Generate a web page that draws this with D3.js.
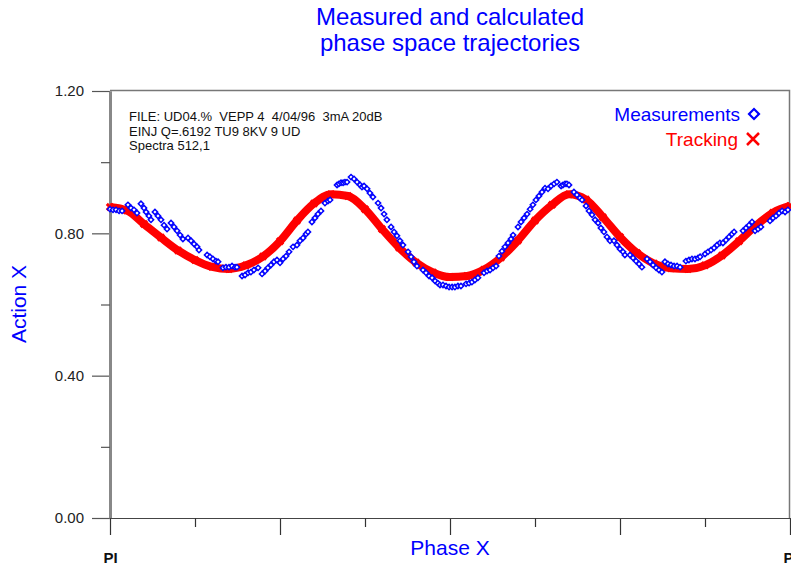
<!DOCTYPE html>
<html>
<head>
<meta charset="utf-8">
<script src="https://cdn.jsdelivr.net/npm/d3@7"></script>
<style>
  body { margin: 0; background: #fff; }
  text { font-family: "Liberation Sans", Arial, sans-serif; }
</style>
</head>
<body>
<svg id="chart" width="791" height="569"></svg>
<script>
// ----------------------------
// Data (phase in degrees, -180..180 = -PI..PI)
// ----------------------------
const titleLines = ["Measured and calculated", "phase space trajectories"];
const infoLines = [
  "FILE: UD04.%  VEPP 4  4/04/96  3mA 20dB",
  "EINJ Q=.6192 TU9 8KV 9 UD",
  "Spectra 512,1"
];
const yMajorTicks = [0, 0.4, 0.8, 1.2];
const yMinorTicks = [0.2, 0.6, 1.0];
const xMajorTicks = [-180, -90, 0, 90, 180];
const xMinorTicks = [-135, -45, 45, 135];
const xEndLabel = "PI";

// tracking curve, every 9 degrees
const trackPhase = d3.range(-180, 181, 9);
const trackAction = [
  0.874, 0.864, 0.826, 0.788, 0.752, 0.725, 0.706, 0.700, 0.710, 0.735,
  0.778, 0.836, 0.884, 0.910, 0.905, 0.868, 0.812, 0.760, 0.718, 0.690,
  0.677, 0.680, 0.698, 0.732, 0.780, 0.836, 0.880, 0.910, 0.895, 0.845,
  0.790, 0.745, 0.715, 0.702, 0.700, 0.710, 0.738, 0.778, 0.822, 0.858,
  0.877
];

// measured points [phase, action]
const measurements = [
  [-180.0,0.868],[-178.4,0.866],[-176.8,0.866],[-175.2,0.863],[-173.6,0.863],
  [-170.5,0.880],[-168.9,0.871],[-167.3,0.866],[-165.7,0.857],
  [-163.6,0.883],[-162.0,0.871],[-160.9,0.860],[-159.4,0.849],[-158.3,0.838],
  [-156.2,0.860],[-154.6,0.849],[-153.0,0.838],[-151.4,0.823],[-149.8,0.812],
  [-147.7,0.829],[-146.1,0.818],[-144.5,0.807],[-142.9,0.795],[-141.4,0.784],
  [-138.7,0.787],[-137.1,0.779],[-135.5,0.770],[-133.9,0.762],[-132.9,0.753],
  [-128.6,0.739],[-127.1,0.734],[-125.5,0.728],[-123.9,0.722],[-122.8,0.720],
  [-120.2,0.703],[-118.6,0.705],[-117.0,0.705],[-115.4,0.708],[-113.8,0.705],[-112.8,0.705],
  [-110.1,0.680],[-108.5,0.683],[-106.9,0.689],[-105.4,0.691],[-103.8,0.697],[-101.6,0.703],
  [-99.5,0.686],[-97.9,0.694],[-96.4,0.703],[-94.8,0.711],[-93.2,0.720],[-91.6,0.725],
  [-90.0,0.717],[-88.4,0.728],[-86.8,0.736],[-85.2,0.748],[-83.1,0.762],
  [-81.0,0.767],[-79.4,0.779],[-77.8,0.787],[-76.2,0.798],[-75.2,0.804],
  [-73.1,0.832],[-71.5,0.843],[-69.9,0.854],[-68.3,0.863],
  [-66.2,0.885],[-64.6,0.891],[-63.5,0.894],
  [-59.8,0.936],[-58.8,0.939],[-57.7,0.942],[-56.6,0.942],[-55.6,0.944],[-54.5,0.944],
  [-52.4,0.958],[-50.8,0.953],[-49.2,0.944],[-47.6,0.936],[-46.6,0.930],
  [-45.5,0.933],[-43.9,0.925],[-42.4,0.913],[-40.8,0.902],
  [-38.1,0.885],[-36.5,0.871],[-34.9,0.854],[-33.4,0.838],
  [-31.2,0.818],[-29.6,0.804],[-28.1,0.793],[-26.5,0.779],[-24.9,0.767],
  [-22.2,0.748],[-20.6,0.734],[-19.1,0.720],[-17.5,0.708],
  [-14.3,0.697],[-12.7,0.689],[-11.1,0.680],[-9.5,0.675],[-7.9,0.666],[-6.4,0.660],[-5.3,0.655],
  [-3.7,0.655],[-2.1,0.652],[-0.5,0.649],[1.1,0.649],[2.6,0.649],[4.2,0.652],[5.8,0.652],
  [8.5,0.658],[10.1,0.660],[11.6,0.663],[13.2,0.669],[14.8,0.675],
  [18.0,0.689],[19.6,0.694],[21.2,0.697],[22.8,0.703],[24.4,0.708],
  [25.9,0.736],[27.5,0.750],[29.1,0.762],[30.7,0.773],[32.3,0.784],[33.4,0.795],
  [36.0,0.818],[37.6,0.832],[39.2,0.843],[40.8,0.854],[42.4,0.868],
  [43.9,0.880],[45.5,0.894],[47.1,0.905],[48.7,0.916],[50.3,0.927],
  [51.9,0.925],[53.5,0.933],[55.1,0.939],[56.6,0.944],
  [58.8,0.933],[59.8,0.936],[60.9,0.939],[61.9,0.939],[63.0,0.936],
  [65.6,0.916],[67.2,0.908],[68.8,0.899],[69.9,0.894],
  [72.0,0.877],[73.6,0.863],[75.2,0.852],[76.8,0.838],
  [78.4,0.829],[79.9,0.815],[81.5,0.804],[83.1,0.790],[84.7,0.779],
  [86.8,0.779],[88.4,0.767],[90.0,0.756],[91.6,0.748],[92.6,0.739],
  [95.3,0.739],[96.9,0.731],[98.5,0.722],[100.1,0.714],[101.6,0.705],
  [104.3,0.728],[105.9,0.720],[107.5,0.711],[109.1,0.703],[110.6,0.697],[112.2,0.691],
  [113.8,0.720],[115.4,0.714],[117.0,0.711],[118.6,0.708],[120.2,0.708],[121.8,0.705],
  [124.9,0.722],[126.5,0.725],[128.1,0.728],[129.7,0.728],[131.3,0.731],[132.4,0.734],
  [135.0,0.742],[136.6,0.748],[138.2,0.753],[139.8,0.759],[141.4,0.767],[142.9,0.773],
  [144.5,0.773],[146.1,0.781],[147.7,0.790],[149.3,0.798],[150.4,0.804],
  [155.1,0.807],[156.7,0.815],[158.3,0.823],[159.9,0.832],
  [161.5,0.807],[163.1,0.812],[164.6,0.818],
  [169.4,0.835],[171.0,0.843],[172.6,0.849],[174.2,0.857],[175.8,0.863],
  [177.4,0.860],[178.9,0.866]
];

// ----------------------------
// Layout
// ----------------------------
const svg = d3.select("#chart");
const plotLeft = 110, plotRight = 790, plotTop = 91, plotBottom = 518;
const blue = "#0000ff", red = "#ff0000";

const x = d3.scaleLinear().domain([-180, 180]).range([plotLeft, plotRight]);
const y = d3.scaleLinear().domain([0, 1.2]).range([plotBottom, plotTop]);

// frame (top / right)
svg.append("path")
  .attr("d", `M${plotLeft},${plotTop - 0.5}H${plotRight - 0.5}V${plotBottom}`)
  .attr("fill", "none").attr("stroke", "#777").attr("stroke-width", 1.5);

// ----------------------------
// Axes
// ----------------------------
const yMajor = svg.append("g").attr("transform", `translate(${plotLeft},0)`)
  .call(d3.axisLeft(y).tickValues(yMajorTicks).tickSize(18).tickSizeOuter(0)
    .tickPadding(8).tickFormat(d3.format(".2f")));
const yMinor = svg.append("g").attr("transform", `translate(${plotLeft},0)`)
  .call(d3.axisLeft(y).tickValues(yMinorTicks).tickSize(9).tickSizeOuter(0).tickFormat(""));

[yMajor, yMinor].forEach(g => {
  g.select(".domain").attr("stroke", "#888").attr("stroke-width", 3);
  g.selectAll(".tick line").attr("stroke", "#555").attr("stroke-width", 1.2);
});
yMajor.selectAll(".tick text")
  .attr("font-size", 15).attr("fill", "#222")
  .style("font-family", "'Liberation Sans', Arial, sans-serif");

const xMajor = svg.append("g").attr("transform", `translate(0,${plotBottom})`)
  .call(d3.axisBottom(x).tickValues(xMajorTicks).tickSize(17).tickSizeOuter(0)
    .tickPadding(17).tickFormat(d => Math.abs(d) === 180 ? xEndLabel : ""));
const xMinor = svg.append("g").attr("transform", `translate(0,${plotBottom})`)
  .call(d3.axisBottom(x).tickValues(xMinorTicks).tickSize(9).tickSizeOuter(0).tickFormat(""));

[xMajor, xMinor].forEach(g => {
  g.select(".domain").attr("stroke", "#444").attr("stroke-width", 1.2);
  g.selectAll(".tick line").attr("stroke", "#333").attr("stroke-width", 1.2);
});
xMajor.selectAll(".tick text")
  .attr("font-size", 15).attr("font-weight", "bold").attr("fill", "#111")
  .style("font-family", "'Liberation Sans', Arial, sans-serif");

// ----------------------------
// Titles and labels
// ----------------------------
svg.append("text")
  .attr("text-anchor", "middle").attr("fill", blue).attr("font-size", 24)
  .selectAll("tspan").data(titleLines).join("tspan")
  .attr("x", 450).attr("y", (d, i) => 25 + i * 26).text(d => d);

svg.append("text")
  .attr("transform", "translate(26,304) rotate(-90)")
  .attr("text-anchor", "middle").attr("fill", blue).attr("font-size", 21)
  .text("Action X");

svg.append("text")
  .attr("x", 450).attr("y", 555)
  .attr("text-anchor", "middle").attr("fill", blue).attr("font-size", 21)
  .text("Phase X");

svg.append("g").selectAll("text").data(infoLines).join("text")
  .attr("x", 129).attr("y", (d, i) => 121 + i * 14.5)
  .attr("font-size", 13).attr("fill", "#111")
  .style("white-space", "pre")
  .text(d => d);

// ----------------------------
// Series
// ----------------------------
const plot = svg.append("g");

const trackPts = trackPhase.map((p, i) => [p, trackAction[i]]);
plot.append("path")
  .datum(trackPts)
  .attr("fill", "none").attr("stroke", red).attr("stroke-width", 8)
  .attr("d", d3.line().x(d => x(d[0])).y(d => y(d[1])).curve(d3.curveMonotoneX));

plot.selectAll(".trk").data(trackPts).join("path")
  .attr("class", "trk")
  .attr("transform", d => `translate(${x(d[0])},${y(d[1])}) rotate(45)`)
  .attr("d", d3.symbol(d3.symbolCross, 45)())
  .attr("fill", red);

plot.selectAll(".meas").data(measurements).join("path")
  .attr("class", "meas")
  .attr("transform", d => `translate(${x(d[0])},${y(d[1])}) rotate(45)`)
  .attr("d", d3.symbol(d3.symbolSquare, 14)())
  .attr("fill", "#fff").attr("stroke", blue).attr("stroke-width", 1.5);

// ----------------------------
// Legend
// ----------------------------
const legend = svg.append("g");
legend.append("text")
  .attr("x", 740).attr("y", 121).attr("text-anchor", "end")
  .attr("fill", blue).attr("font-size", 19).text("Measurements");
legend.append("path")
  .attr("transform", "translate(754,114) rotate(45)")
  .attr("d", d3.symbol(d3.symbolSquare, 50)())
  .attr("fill", "none").attr("stroke", blue).attr("stroke-width", 2.2);

legend.append("text")
  .attr("x", 738).attr("y", 146).attr("text-anchor", "end")
  .attr("fill", red).attr("font-size", 19).text("Tracking");
legend.append("path")
  .attr("d", "M747,133L759,145M759,133L747,145")
  .attr("stroke", red).attr("stroke-width", 2.5);
</script>
</body>
</html>
